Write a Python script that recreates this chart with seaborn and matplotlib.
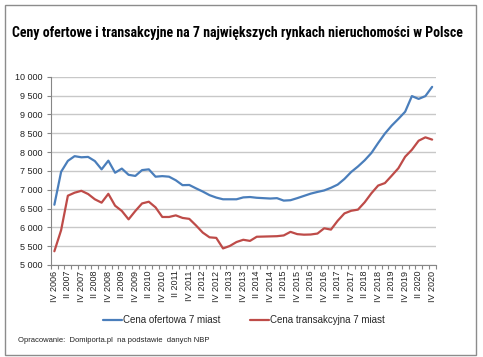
import matplotlib
matplotlib.use("Agg")
import matplotlib.pyplot as plt
import matplotlib.ticker as mticker
from matplotlib.patches import Rectangle
import seaborn as sns
import pandas as pd

# ---- data ----
quarters = []
roman = ["I", "II", "III", "IV"]
years = list(range(2006, 2021))
for y in years:
    for r in roman:
        quarters.append(f"{r} {y}")
quarters = quarters[3:]  # IV 2006 .. IV 2020

offer_prices = [6600, 7475, 7765, 7890, 7860, 7870, 7760, 7540, 7770, 7450,
                7560, 7395, 7365, 7520, 7540, 7345, 7360, 7345, 7250, 7120,
                7125, 7035, 6950, 6855, 6790, 6745, 6745, 6745, 6795, 6805,
                6785, 6775, 6765, 6775, 6710, 6720, 6775, 6835, 6895, 6940,
                6980, 7050, 7135, 7285, 7470, 7615, 7780, 7975, 8240, 8490,
                8700, 8880, 9070, 9485, 9410, 9485, 9730]

transaction_prices = [5365, 5925, 6840, 6920, 6970, 6885, 6745, 6655, 6890, 6575,
                      6435, 6212, 6434, 6635, 6680, 6530, 6275, 6275, 6318, 6250,
                      6225, 6050, 5860, 5735, 5720, 5440, 5505, 5610, 5670, 5640,
                      5750, 5755, 5760, 5765, 5785, 5880, 5820, 5805, 5810, 5835,
                      5975, 5940, 6175, 6370, 6440, 6470, 6665, 6905, 7110, 7175,
                      7370, 7570, 7875, 8060, 8300, 8390, 8330]

series_names = ["Cena ofertowa 7 miast", "Cena transakcyjna 7 miast"]
series_colors = ["#4A7EBB", "#BE4B48"]
title = "Ceny ofertowe i transakcyjne na 7 największych rynkach nieruchomości w Polsce"
source = "Opracowanie:  Domiporta.pl  na podstawie  danych NBP"

# ---- figure ----
sns.set_theme(style="white")
plt.rcParams["font.family"] = ["Liberation Sans", "DejaVu Sans"]

W, H = 483, 357
fig = plt.figure(figsize=(W / 100, H / 100), dpi=100)
fig.patch.set_facecolor("white")

def fx(px):
    return px / W

def fy(py):
    return 1 - py / H

left, right, top, bottom = 51, 435.5, 76.7, 265
ax = fig.add_axes([fx(left), fy(bottom), fx(right - left), (bottom - top) / H])

n = len(quarters)
df = pd.DataFrame({
    "pos": list(range(n)) * 2,
    "value": offer_prices + transaction_prices,
    "series": [series_names[0]] * n + [series_names[1]] * n,
})

sns.lineplot(data=df, x="pos", y="value", hue="series", palette=series_colors,
             linewidth=1.6, ax=ax, legend=True)

ax.set_xlim(-0.5, n - 0.5)
ax.set_ylim(5000, 10000)
ax.set_xlabel("")
ax.set_ylabel("")

ax.yaxis.set_major_locator(mticker.MultipleLocator(500))
ax.yaxis.set_major_formatter(mticker.FuncFormatter(lambda v, p: f"{int(v):,}".replace(",", " ")))
ax.grid(axis="y", color="#C8C8C8", linewidth=1.0)
ax.set_axisbelow(True)

ax.set_xticks(list(range(0, n, 2)))
ax.set_xticklabels(quarters[0::2], rotation=90)
ax.set_xticks([i - 0.5 for i in range(n + 1)], minor=True)
ax.tick_params(axis="x", which="major", length=0, pad=4, labelsize=6.5, colors="#222222")
ax.tick_params(axis="x", which="minor", length=3, width=0.8, color="#868686", bottom=True)
ax.tick_params(axis="y", which="major", length=3, width=0.8, color="#868686", left=True,
               labelsize=6.5, labelcolor="#222222", pad=3)

for s in ["top", "right"]:
    ax.spines[s].set_visible(False)
for s in ["left", "bottom"]:
    ax.spines[s].set_color("#868686")
    ax.spines[s].set_linewidth(0.8)

# legend
handles, labels = ax.get_legend_handles_labels()
ax.legend_.remove()
fig.legend(handles, labels, loc="center", bbox_to_anchor=(fx(244), fy(320)), ncol=2,
           frameon=False, fontsize=7, handlelength=2.0, handletextpad=0.1,
           columnspacing=3.0, borderaxespad=0)

# title
fig.text(fx(237), fy(33), title, ha="center", va="center", fontsize=10, fontweight="bold",
         family=["Roboto Condensed", "Roboto", "Liberation Sans", "DejaVu Sans"], color="#000000")

# source
fig.text(fx(18), fy(341), source, ha="left", va="center", fontsize=5.5, color="#222222")

# border
fig.add_artist(Rectangle((fx(5), fy(355)), fx(471), (350) / H, transform=fig.transFigure,
                         fill=False, edgecolor="#8C8C8C", linewidth=1.0))

fig.savefig("out.png", dpi=100)
